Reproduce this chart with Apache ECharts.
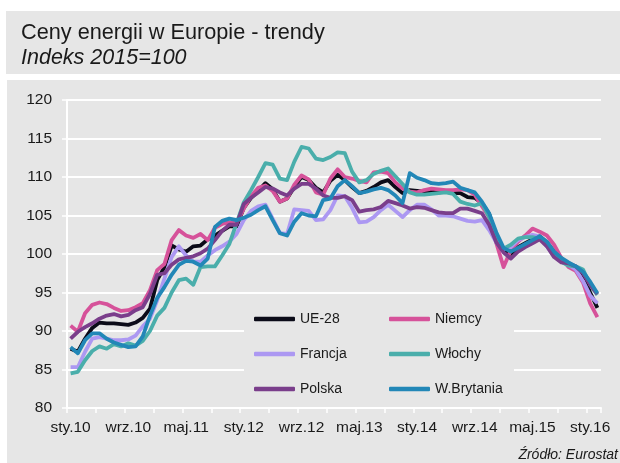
<!DOCTYPE html>
<html>
<head>
<meta charset="utf-8">
<script src="https://cdn.jsdelivr.net/npm/echarts@6/dist/echarts.min.js"></script>
<style>
  html, body { margin: 0; padding: 0; background: #ffffff; }
  #bg1 { position: absolute; left: 6px; top: 11px; width: 614px; height: 63px; background: #e6e6e6; }
  #bg2 { position: absolute; left: 7px; top: 80px; width: 613px; height: 383px; background: #e6e6e6; }
  #chart { position: absolute; left: 0; top: 0; width: 620px; height: 463px; }
</style>
</head>
<body>
<div id="bg1"></div>
<div id="bg2"></div>
<div id="chart"></div>
<script>
// Month name abbreviations (Polish) and period: Jan 2010 .. Feb 2016
const monthNames = ['sty','lut','mar','kwi','maj','cze','lip','sie','wrz','paź','lis','gru'];
const startYear = 2010;
const monthCount = 74;
const categories = [];
for (let i = 0; i < monthCount; i++) {
  const y = startYear + Math.floor(i / 12);
  categories.push(monthNames[i % 12] + '.' + String(y).slice(2));
}

const seriesNames = ['UE-28', 'Niemcy', 'Francja', 'Włochy', 'Polska', 'W.Brytania'];

const ue28 = [87.7,87.3,89.0,90.4,91.1,91.0,91.0,90.9,90.8,91.1,91.7,92.9,
  96.6,98.3,101.1,100.6,100.3,101.0,101.1,101.9,102.4,103.0,103.6,103.6,
  106.0,107.3,108.2,109.2,108.4,106.8,107.2,108.7,110.0,109.6,108.6,108.0,
  109.5,110.3,109.6,108.7,107.9,108.2,108.7,109.3,109.6,108.7,107.9,108.3,
  108.2,108.1,108.1,108.0,108.1,107.9,107.9,107.4,107.3,106.6,105.2,102.3,
  100.4,100.0,100.9,101.4,101.9,102.3,101.5,100.3,99.1,98.7,98.3,97.3,
  95.0,93.0];

const niemcy = [90.7,89.9,92.3,93.4,93.7,93.5,93.0,92.6,92.7,93.1,93.6,95.3,
  97.9,98.7,101.8,103.1,102.4,102.1,102.6,101.8,103.4,103.9,104.1,104.0,
  105.9,107.5,108.6,108.9,108.2,106.8,107.2,109.0,110.2,109.7,108.0,107.7,
  109.8,111.0,110.0,109.8,109.5,109.3,110.6,110.7,110.5,109.3,108.5,108.1,
  108.0,108.3,108.5,108.4,108.3,108.3,108.4,108.3,107.7,106.2,104.8,101.4,
  98.3,100.5,101.6,102.4,103.3,102.9,102.4,101.2,99.5,98.3,97.8,96.3,
  93.6,91.8];

const francja = [85.3,85.3,87.3,89.0,89.2,89.0,88.8,88.8,88.9,89.4,90.6,91.6,
  94.0,96.8,99.6,101.0,99.8,99.0,99.0,99.8,100.5,101.0,101.6,102.6,
  104.4,105.6,106.2,106.4,104.6,102.7,102.6,105.8,105.7,105.6,104.4,104.5,
  105.7,107.6,107.5,106.0,104.1,104.2,104.8,105.7,106.4,105.6,104.8,105.7,
  106.4,106.4,105.8,105.0,105.0,104.9,104.6,104.3,104.2,104.4,103.1,101.5,
  100.6,100.9,101.8,102.2,102.5,102.3,101.0,99.7,99.0,98.6,98.0,96.5,
  94.6,93.6];

const wlochy = [84.5,84.7,86.2,87.4,88.0,87.7,88.3,88.0,88.4,88.1,88.7,90.0,
  92.0,93.0,95.0,96.6,96.8,96.0,98.3,98.4,98.4,99.8,101.3,104.0,
  106.7,108.3,110.0,111.8,111.6,109.8,109.6,112.0,113.9,113.7,112.4,112.2,
  112.6,113.2,113.1,110.7,109.3,109.6,110.4,110.8,111.1,110.1,109.1,108.0,
  107.7,107.7,107.8,107.9,108.0,107.8,106.8,106.5,106.3,106.6,104.8,102.0,
  100.7,101.2,102.0,102.2,102.2,102.0,101.2,100.2,99.0,98.5,98.4,98.0,
  96.0,94.7];

const polska = [89.0,89.9,90.5,91.0,91.6,92.0,92.2,91.9,92.1,92.7,93.1,94.8,
  97.3,97.5,98.6,99.3,99.5,99.7,100.1,100.7,101.8,103.0,103.8,103.8,
  106.5,107.3,108.0,108.7,108.5,108.0,107.6,108.5,109.1,109.1,108.5,107.6,
  107.3,107.3,107.5,107.0,105.5,105.7,105.8,106.1,106.9,106.6,106.3,105.9,
  106.1,106.0,105.7,105.4,105.3,105.3,105.9,105.9,105.6,105.3,103.8,101.5,
  100.2,99.4,100.3,100.9,101.4,101.9,101.0,99.6,98.9,98.8,98.4,97.5,
  96.0,94.8];

const wbrytania = [87.9,87.1,88.8,89.7,89.7,89.0,88.5,88.2,87.9,88.0,89.3,92.0,
  94.3,95.7,97.3,98.6,99.1,99.0,98.5,99.4,103.5,104.3,104.6,104.4,
  104.7,105.1,105.7,106.2,104.4,102.7,102.4,104.2,105.3,105.0,104.9,107.0,
  107.2,108.8,109.6,108.8,107.9,108.1,108.4,108.6,108.3,107.6,106.6,110.5,
  109.9,109.6,109.2,109.1,109.2,109.4,108.6,108.3,108.0,106.8,105.3,102.8,
  100.8,100.3,100.8,101.3,101.8,102.3,101.6,100.3,99.5,98.9,98.4,97.7,
  96.4,94.9];

const seriesData = [ue28, niemcy, francja, wlochy, polska, wbrytania];
const seriesColors = ['#0b0b18', '#d6529a', '#ac98f2', '#4aaeab', '#7a3e8b', '#2287b7'];

const yTicks = { min: 80, max: 120, interval: 5 };

const FONT = '"Liberation Sans", Arial, sans-serif';
const TXT = '#1a1a1a';

const chart = echarts.init(document.getElementById('chart'), null, { renderer: 'canvas' });

const legendBase = {
  orient: 'vertical', top: 312, padding: 0, itemGap: 21,
  icon: 'roundRect', itemWidth: 41, itemHeight: 4.5,
  textStyle: { fontFamily: FONT, fontSize: 14, color: TXT }
};

const option = {
  animation: false,
  backgroundColor: 'transparent',
  textStyle: { fontFamily: FONT },
  title: [
    { text: 'Ceny energii w Europie - trendy', left: 21, top: 22, padding: 0,
      textStyle: { fontFamily: FONT, fontSize: 21.7, fontWeight: 'normal', color: TXT } },
    { text: 'Indeks 2015=100', left: 21, top: 47, padding: 0,
      textStyle: { fontFamily: FONT, fontSize: 21.5, fontWeight: 'normal', fontStyle: 'italic', color: TXT } },
    { text: 'Źródło: Eurostat', right: 2, top: 448, padding: 0,
      textStyle: { fontFamily: FONT, fontSize: 14, fontWeight: 'normal', fontStyle: 'italic', color: TXT } }
  ],
  grid: { left: 67, right: 19, top: 100, bottom: 55, containLabel: false },
  xAxis: {
    type: 'category',
    data: categories,
    boundaryGap: true,
    axisLine: { show: true, lineStyle: { color: '#ffffff', width: 2 } },
    axisTick: { show: true, interval: 3, length: 5, lineStyle: { color: '#ffffff', width: 1.5 } },
    axisLabel: { interval: 7, margin: 12, fontFamily: FONT, fontSize: 15.5, color: TXT },
    splitLine: { show: false }
  },
  yAxis: {
    type: 'value',
    min: yTicks.min, max: yTicks.max, interval: yTicks.interval,
    axisLine: { show: true, lineStyle: { color: '#ffffff', width: 2 } },
    axisTick: { show: true, length: 5, lineStyle: { color: '#ffffff', width: 1.5 } },
    axisLabel: { margin: 15, fontFamily: FONT, fontSize: 15.5, color: TXT },
    splitLine: { show: true, lineStyle: { color: '#ffffff', width: 2 } }
  },
  legend: [
    Object.assign({}, legendBase, { data: [seriesNames[0], seriesNames[2], seriesNames[4]], left: 254 }),
    Object.assign({}, legendBase, { data: [seriesNames[1], seriesNames[3], seriesNames[5]], left: 389 })
  ],
  graphic: [
    { type: 'rect', z: 1, silent: true,
      shape: { x: 244, y: 297, width: 270, height: 104 },
      style: { fill: '#e6e6e6' } }
  ],
  series: seriesNames.map((name, i) => ({
    name: name,
    type: 'line',
    data: seriesData[i],
    symbol: 'none',
    showSymbol: false,
    smooth: false,
    z: 2 + i,
    color: seriesColors[i],
    itemStyle: { color: seriesColors[i] },
    lineStyle: { width: 3.8, color: seriesColors[i], join: 'round' }
  }))
};

chart.setOption(option);
</script>
</body>
</html>
